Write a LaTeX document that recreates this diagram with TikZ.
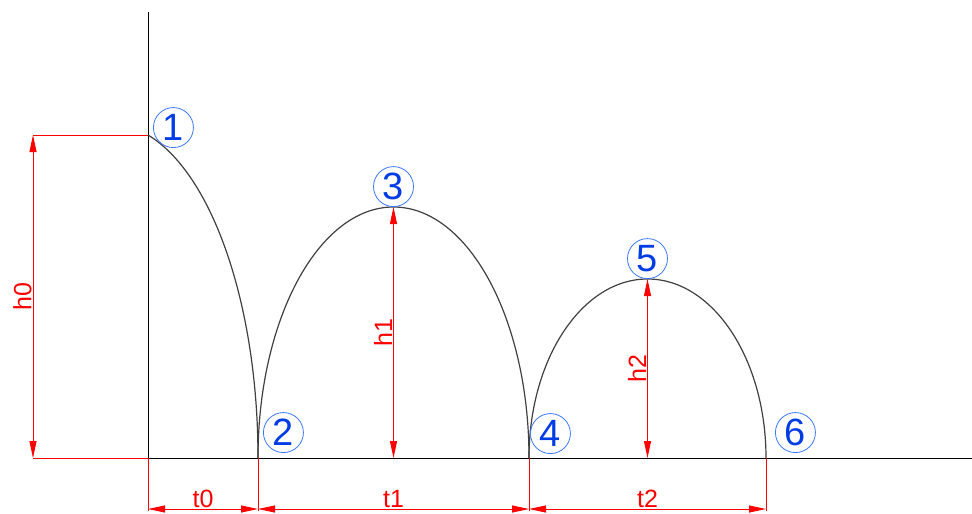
\documentclass[tikz,border=0pt]{standalone}
\usepackage{fontspec}
\setmainfont{Liberation Sans}
\usetikzlibrary{arrows.meta,positioning}
\definecolor{numblue}{RGB}{0,60,230}
\definecolor{ringblue}{RGB}{60,120,255}

\begin{document}
\begin{tikzpicture}[
    x=1pt, y=-1pt,
    num/.style={circle, draw=ringblue, line width=0.8pt, text=numblue, minimum size=40pt, inner sep=0pt, font=\fontsize{38}{38}\selectfont},
    dim/.style={red, line width=0.9pt, {Triangle[length=17pt,width=7pt]}-{Triangle[length=17pt,width=7pt]}},
    ext/.style={red, line width=0.9pt},
    curve/.style={black!75, line width=1.2pt},
    lbl/.style={text=red, inner sep=1pt, font=\fontsize{25}{25}\selectfont}
]
\useasboundingbox (0,0) rectangle (972,514);
% points of the bounces
\coordinate (p1) at (148,135);
\coordinate (p2) at (258,458);
\coordinate (p3) at (393.5,207);
\coordinate (p4) at (529,458);
\coordinate (p5) at (647.5,279);
\coordinate (p6) at (766,458);
\coordinate (origin) at (148,458);
\coordinate (ytop) at (148,12);
\coordinate (xend) at (972,458);
% axes
\draw[line width=0.9pt] (ytop) -- (origin) -- (xend);
% path of the ball
\draw[curve] (p1) arc[start angle=284.88, end angle=360, x radius=148, y radius=334];
\draw[curve] (p2) arc[start angle=180, end angle=360, x radius=135.5, y radius=251];
\draw[curve] (p4) arc[start angle=180, end angle=360, x radius=118.5, y radius=179];
% heights
\coordinate (h0top) at (33,135);
\coordinate (h0bot) at (33,458);
\draw[ext] (h0top) -- (p1);
\draw[ext] (h0bot) -- (origin);
\draw[dim] (h0bot) -- node[lbl, rotate=90, anchor=south] {h0} (h0top);
\draw[dim] (p3 |- origin) -- node[lbl, rotate=90, anchor=south] {h1} (p3);
\draw[dim] (p5 |- origin) -- node[lbl, rotate=90, anchor=south] {h2} (p5);
% times
\coordinate (e0) at (148,511);
\coordinate (e1) at (258,511);
\coordinate (e2) at (529,511);
\coordinate (e3) at (766,511);
\coordinate (d0) at (148,509);
\coordinate (d1) at (258,509);
\coordinate (d2) at (529,509);
\coordinate (d3) at (766,509);
\draw[ext] (origin) -- (e0);
\draw[ext] (p2) -- (e1);
\draw[ext] (p4) -- (e2);
\draw[ext] (p6) -- (e3);
\draw[dim] (d0) -- node[lbl, above] {t0} (d1);
\draw[dim] (d1) -- node[lbl, above] {t1} (d2);
\draw[dim] (d2) -- node[lbl, above] {t2} (d3);
% point numbers
\node[num, above right=-7pt and 11pt of p1] (n1) {1};
\node[num, above right=11pt and 11pt of p2] (n2) {2};
\node[num, above=0pt of p3] (n3) {3};
\node[num, above right=10pt and 7pt of p4] (n4) {4};
\node[num, above=0pt of p5] (n5) {5};
\node[num, above right=11pt and 15pt of p6] (n6) {6};
\end{tikzpicture}
\end{document}
